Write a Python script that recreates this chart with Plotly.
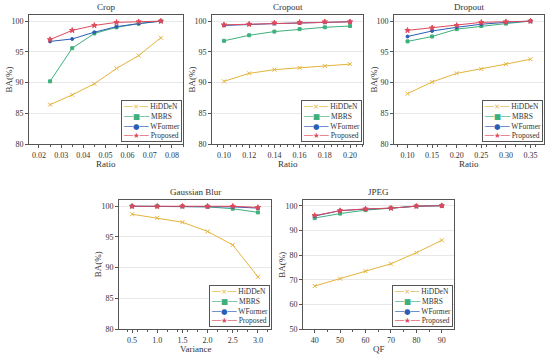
import plotly.graph_objects as go

series_names = ["HiDDeN", "MBRS", "WFormer", "Proposed"]

crop_x = [0.025, 0.035, 0.045, 0.055, 0.065, 0.075]
crop_hidden = [86.4, 88.0, 89.8, 92.3, 94.4, 97.3]
crop_mbrs = [90.2, 95.6, 98.0, 99.0, 99.6, 100.0]
crop_wformer = [96.7, 97.1, 98.2, 99.1, 99.6, 100.0]
crop_proposed = [97.0, 98.5, 99.3, 99.8, 99.9, 100.0]

cropout_x = [0.10, 0.12, 0.14, 0.16, 0.18, 0.20]
cropout_hidden = [90.2, 91.5, 92.1, 92.4, 92.7, 93.0]
cropout_mbrs = [96.8, 97.7, 98.3, 98.7, 99.0, 99.2]
cropout_wformer = [99.3, 99.5, 99.6, 99.7, 99.8, 99.9]
cropout_proposed = [99.4, 99.5, 99.7, 99.8, 99.9, 99.9]

dropout_x = [0.10, 0.15, 0.20, 0.25, 0.30, 0.35]
dropout_hidden = [88.2, 90.1, 91.5, 92.2, 93.0, 93.8]
dropout_mbrs = [96.7, 97.5, 98.7, 99.2, 99.6, 100.0]
dropout_wformer = [97.5, 98.4, 99.0, 99.5, 99.8, 100.0]
dropout_proposed = [98.5, 98.9, 99.3, 99.8, 99.9, 100.0]

blur_x = [0.5, 1.0, 1.5, 2.0, 2.5, 3.0]
blur_hidden = [98.7, 98.1, 97.4, 95.9, 93.7, 88.5]
blur_mbrs = [100.0, 100.0, 100.0, 99.9, 99.6, 99.0]
blur_wformer = [100.0, 100.0, 100.0, 100.0, 99.9, 99.7]
blur_proposed = [100.0, 100.0, 100.0, 100.0, 100.0, 99.8]

jpeg_x = [40, 50, 60, 70, 80, 90]
jpeg_hidden = [67.5, 70.5, 73.5, 76.5, 81.0, 86.0]
jpeg_mbrs = [95.0, 96.8, 98.2, 99.0, 99.8, 100.0]
jpeg_wformer = [95.8, 98.0, 98.6, 99.0, 99.8, 100.0]
jpeg_proposed = [96.0, 98.0, 98.7, 99.0, 99.8, 100.0]

W, H = 550, 357
FONT = "Liberation Serif"
TXT = "#333"
colors = ["#E3B43C", "#3DB07C", "#2A5DB5", "#E04A5C"]
symbols = ["x-thin-open", "square", "circle", "star"]
msizes = [4, 3, 3, 4]
legend_glyphs = ["\u00d7", "\u25a0", "\u25cf", "\u2605"]

def px_x(a, b):
    return [a / W, b / W]

def px_y(top, bottom):
    return [1 - bottom / H, 1 - top / H]

panels = [
    dict(title="Crop", xt="Ratio", x=crop_x,
         ys=[crop_hidden, crop_mbrs, crop_wformer, crop_proposed],
         dx=(29, 183), dy=(15, 144), xr=[0.0155, 0.085], yr=[80, 101],
         xtv=[0.02, 0.03, 0.04, 0.05, 0.06, 0.07, 0.08], xtt=["0.02", "0.03", "0.04", "0.05", "0.06", "0.07", "0.08"],
         ytv=[80, 85, 90, 95, 100]),
    dict(title="Cropout", xt="Ratio", x=cropout_x,
         ys=[cropout_hidden, cropout_mbrs, cropout_wformer, cropout_proposed],
         dx=(212, 363), dy=(15, 144), xr=[0.0905, 0.2103], yr=[80, 101],
         xtv=cropout_x, xtt=["0.10", "0.12", "0.14", "0.16", "0.18", "0.20"],
         ytv=[80, 85, 90, 95, 100]),
    dict(title="Dropout", xt="Ratio", x=dropout_x,
         ys=[dropout_hidden, dropout_mbrs, dropout_wformer, dropout_proposed],
         dx=(394, 544), dy=(15, 144), xr=[0.0725, 0.3775], yr=[80, 101],
         xtv=dropout_x, xtt=["0.10", "0.15", "0.20", "0.25", "0.30", "0.35"],
         ytv=[80, 85, 90, 95, 100]),
    dict(title="Gaussian Blur", xt="Variance", x=blur_x,
         ys=[blur_hidden, blur_mbrs, blur_wformer, blur_proposed],
         dx=(119, 271), dy=(199.5, 329), xr=[0.24, 3.26], yr=[80, 101.1],
         xtv=blur_x, xtt=["0.5", "1.0", "1.5", "2.0", "2.5", "3.0"],
         ytv=[80, 85, 90, 95, 100]),
    dict(title="JPEG", xt="QF", x=jpeg_x,
         ys=[jpeg_hidden, jpeg_mbrs, jpeg_wformer, jpeg_proposed],
         dx=(303, 454), dy=(200, 329.3), xr=[35.4, 94.8], yr=[50, 102.3],
         xtv=jpeg_x, xtt=["40", "50", "60", "70", "80", "90"],
         ytv=[50, 60, 70, 80, 90, 100]),
]

fig = go.Figure()
layout = dict(width=W, height=H, margin=dict(l=0, r=0, t=0, b=0, autoexpand=False),
              paper_bgcolor="white", plot_bgcolor="white", showlegend=False,
              font=dict(family=FONT, size=8, color=TXT), annotations=[])

line_chr = "\u2500"
legend_lines = []
for k in range(4):
    legend_lines.append(
        '<span style="color:%s;font-family:DejaVu Sans">%s%s%s</span> %s'
        % (colors[k], line_chr * 2, legend_glyphs[k], line_chr * 2, series_names[k]))
legend_text = "<br>".join(legend_lines)

def label(text, xp, yp, angle=0, size=9):
    return dict(text=text, x=xp / W, y=1 - yp / H, xref="paper", yref="paper",
                xanchor="center", yanchor="middle", showarrow=False, textangle=angle,
                font=dict(family=FONT, size=size, color=TXT))

for i, p in enumerate(panels):
    n = "" if i == 0 else str(i + 1)
    xa, ya = "x" + n, "y" + n
    for k in range(4):
        fig.add_trace(go.Scatter(
            x=p["x"], y=p["ys"][k], name=series_names[k], mode="lines+markers",
            line=dict(color=colors[k], width=1),
            marker=dict(symbol=symbols[k], size=msizes[k], color=colors[k],
                        line=dict(color=colors[k], width=1)),
            xaxis=xa, yaxis=ya))
    axis_common = dict(showline=True, linecolor="#555", linewidth=1, mirror=True,
                       ticks="outside", ticklen=3, tickcolor="#555", tickwidth=1,
                       tickfont=dict(family=FONT, size=8, color=TXT), zeroline=False,
                       automargin=False)
    layout["xaxis" + n] = dict(domain=px_x(*p["dx"]), range=p["xr"], anchor=ya,
                               tickmode="array", tickvals=p["xtv"], ticktext=p["xtt"],
                               showgrid=False,
                               minor=dict(ticks="outside", ticklen=2, tickcolor="#555"),
                               **axis_common)
    layout["yaxis" + n] = dict(domain=px_y(*p["dy"]), range=p["yr"], anchor=xa,
                               tickmode="array", tickvals=p["ytv"],
                               showgrid=True, gridcolor="#e8e8e8", gridwidth=1,
                               **axis_common)
    x0, x1 = p["dx"]
    y0, y1 = p["dy"]
    cx = (x0 + x1) / 2
    layout["annotations"].append(label(p["title"], cx, y0 - 8))
    layout["annotations"].append(label(p["xt"], cx, y1 + 20))
    layout["annotations"].append(label("BA(%)", x0 - 21, (y0 + y1) / 2, angle=-90))
    layout["annotations"].append(dict(text=legend_text, x=(x1 - 1) / W, y=1 - (y1 - 2) / H,
                                      xref="paper", yref="paper", showarrow=False,
                                      xanchor="right", yanchor="bottom", align="left",
                                      bgcolor="white", bordercolor="#555", borderwidth=1,
                                      borderpad=1,
                                      font=dict(family=FONT, size=7.5, color=TXT)))

fig.update_layout(**layout)
fig.write_html("out.html", config={"displayModeBar": False},
               post_script="document.body.style.margin='0';document.body.style.overflow='hidden';")
